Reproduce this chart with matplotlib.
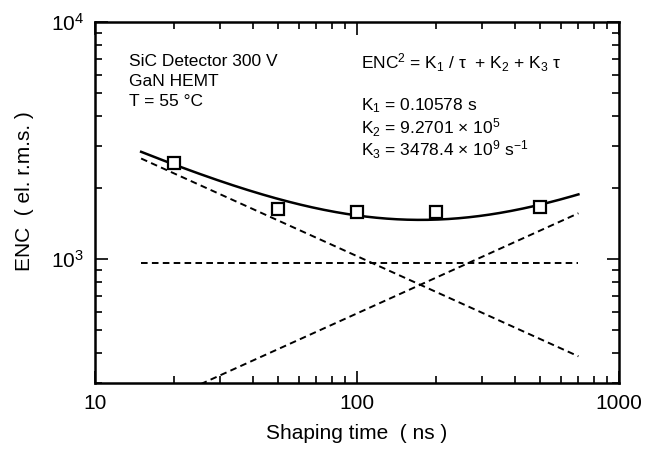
import numpy as np
import matplotlib
matplotlib.use("Agg")
import matplotlib.pyplot as plt
from matplotlib.ticker import LogLocator, NullFormatter, FixedLocator, FixedFormatter

plt.rcParams['font.family'] = ['Liberation Sans', 'DejaVu Sans']
plt.rcParams['mathtext.fontset'] = 'custom'
plt.rcParams['mathtext.rm'] = 'Liberation Sans'
plt.rcParams['mathtext.it'] = 'Liberation Sans'
plt.rcParams['mathtext.default'] = 'regular'

# measured points (shaping time in ns, ENC in electrons rms)
tau_meas = [20, 50, 100, 200, 500]
enc_meas = [2550, 1630, 1585, 1580, 1660]

# fit parameters
K1 = 0.10578        # s
K2 = 9.2701e5
K3 = 3478.4e9       # 1/s
tau_min, tau_max = 15, 700

tau = np.logspace(np.log10(tau_min), np.log10(tau_max), 300)
ts = tau * 1e-9
series = K1 / ts
parallel = K3 * ts
flat = np.full_like(tau, K2)
total = series + flat + parallel

fig = plt.figure(figsize=(6.57, 4.49), dpi=100)
ax = fig.add_axes([95 / 657, 1 - 383 / 449, 524 / 657, 361 / 449])

ax.plot(tau, np.sqrt(total), color='black', lw=1.8)
dash = dict(color='black', lw=1.4, linestyle=(0, (3.4, 2.2)))
ax.plot(tau, np.sqrt(series), **dash)
ax.plot(tau, np.sqrt(flat), **dash)
ax.plot(tau, np.sqrt(parallel), **dash)
ax.plot(tau_meas, enc_meas, linestyle='none', marker='s', ms=8.5,
        mfc='white', mec='black', mew=1.6)

ax.set_xscale('log')
ax.set_yscale('log')
ax.set_xlim(10, 1000)
ax.set_ylim(300, 1e4)

ax.xaxis.set_major_locator(FixedLocator([10, 100, 1000]))
ax.xaxis.set_major_formatter(FixedFormatter(['10', '100', '1000']))
ax.xaxis.set_minor_locator(LogLocator(base=10, subs=np.arange(2, 10)))
ax.xaxis.set_minor_formatter(NullFormatter())
ax.yaxis.set_major_locator(FixedLocator([1e3, 1e4]))
ax.yaxis.set_major_formatter(FixedFormatter(['$10^{3}$', '$10^{4}$']))
ax.yaxis.set_minor_locator(LogLocator(base=10, subs=np.arange(2, 10)))
ax.yaxis.set_minor_formatter(NullFormatter())

ax.tick_params(which='both', direction='in', top=True, right=True, width=1.2)
ax.tick_params(which='major', length=9, labelsize=15, pad=8)
ax.tick_params(which='minor', length=5)
for s in ax.spines.values():
    s.set_linewidth(1.8)

ax.set_xlabel('Shaping time  ( ns )', fontsize=15, labelpad=8)
ax.set_ylabel('ENC  ( el. r.m.s. )', fontsize=15)
ax.yaxis.set_label_coords(-0.117, 0.532)

fs = 12.5


def note(x_px, y_px, s):
    # place text by figure pixel position (from top-left)
    fig.text(x_px / 657, 1 - y_px / 449, s, fontsize=fs, va='center', ha='left')


note(129, 62, 'SiC Detector 300 V')
note(129, 82, 'GaN HEMT')
note(129, 102, 'T = 55 °C')

note(361, 63, r'ENC$^2$ = K$_1$ / τ  + K$_2$ + K$_3$ τ')
note(361, 106, r'K$_1$ = 0.10578 s')
note(361, 128, r'K$_2$ = 9.2701 × 10$^5$')
note(361, 150, r'K$_3$ = 3478.4 × 10$^9$ s$^{-1}$')

fig.savefig('out.png', dpi=100)
